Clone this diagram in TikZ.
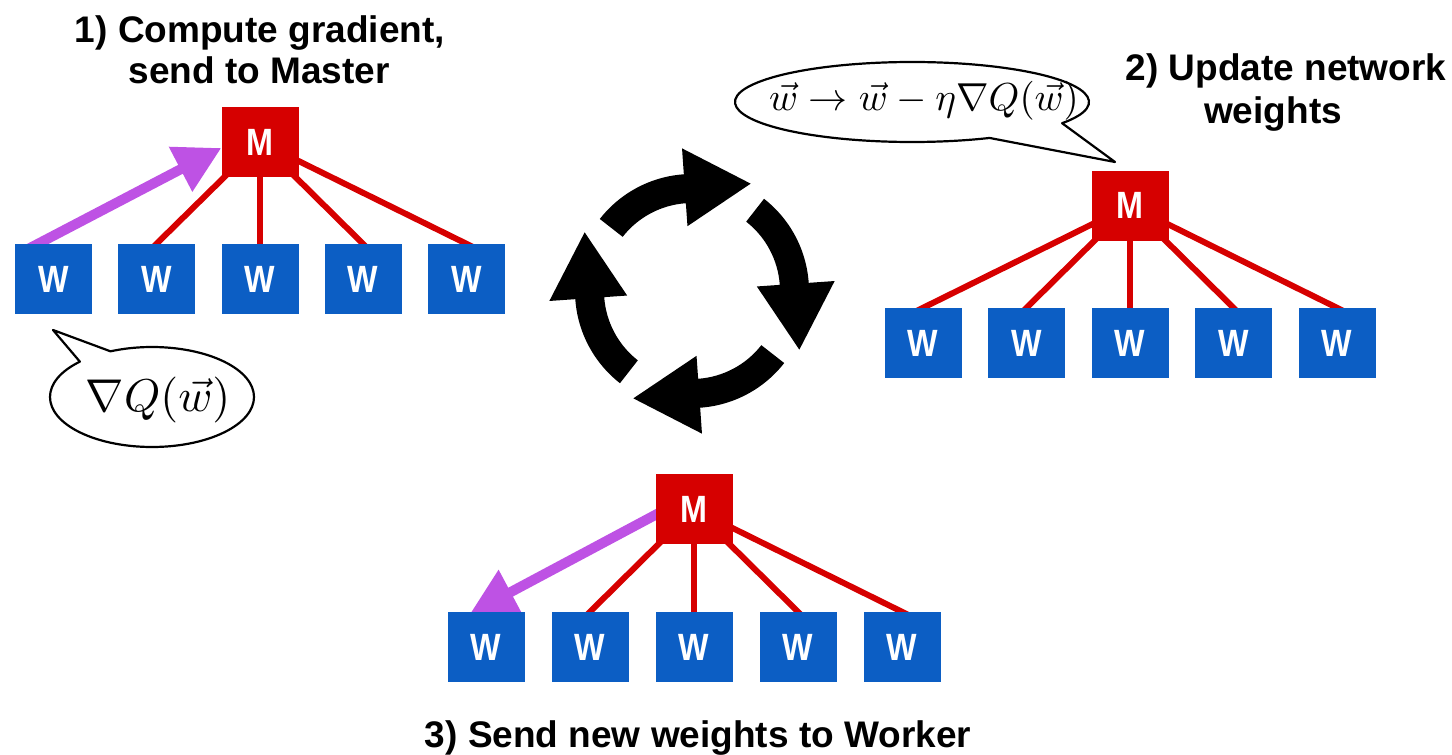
\documentclass[tikz,border=0pt]{standalone}
\usepackage{fontspec}
\setmainfont{Liberation Sans}
\usepackage{graphicx}
\usetikzlibrary{arrows.meta,calc,backgrounds}
\definecolor{wblue}{RGB}{12,94,196}
\definecolor{mred}{RGB}{214,0,0}
\definecolor{gpurple}{RGB}{190,82,228}
\newcommand{\boxletter}[1]{\scalebox{0.85}[1]{#1}}
\begin{document}
\begin{tikzpicture}[x=1pt,y=1pt,
  wbox/.style={fill=wblue, text=white, minimum width=77pt, minimum height=70pt, inner sep=0pt, font=\bfseries\fontsize{38}{38}\selectfont},
  mbox/.style={wbox, fill=mred},
  link/.style={draw=mred, line width=6pt},
  push/.style={draw=gpurple, line width=10pt, -{Triangle[length=46pt,width=48pt]}},
  title/.style={anchor=base, inner sep=0pt, font=\bfseries\fontsize{37}{37}\selectfont},
  bubble/.style={fill=white, draw=black, line width=2.2pt, line join=round},
  cyclearrow/.style={fill=black}]

\useasboundingbox (0,0) rectangle (1452,-755);

% ---------- titles ----------
\node[title] (t1a) at (260,-42) {1) Compute gradient,};
\node[title] (t1b) at (259,-83) {send to Master};
\node[title] (t2a) at (1286,-80) {2) Update network};
\node[title] (t2b) at (1273,-123) {weights};
\node[title] (t3) at (698,-747) {3) Send new weights to Worker};

% ---------- cluster 1 ----------
\node[mbox] (M1) at (260,-142) {\boxletter{M}};
\foreach \i/\x in {1/53.5,2/156.5,3/260,4/363,5/466.5}
  \node[wbox] (W1\i) at (\x,-279) {\boxletter{W}};

% ---------- cluster 2 ----------
\node[mbox] (M2) at (1130,-205.5) {\boxletter{M}};
\foreach \i/\x in {1/923,2/1026.5,3/1130,4/1233.5,5/1337}
  \node[wbox] (W2\i) at (\x,-343) {\boxletter{W}};

% ---------- cluster 3 ----------
\node[mbox] (M3) at (694,-509) {\boxletter{M}};
\foreach \i/\x in {1/486,2/590,3/694,4/798,5/902}
  \node[wbox] (W3\i) at (\x,-647) {\boxletter{W}};

% ---------- connectors (behind boxes) ----------
\begin{pgfonlayer}{background}
  \foreach \i in {2,...,5}
    \draw[link] (M1.center) -- ($(M1.center)!1.06!(W1\i.north)$);
  \foreach \i in {1,...,5}
    \draw[link] (M2.center) -- ($(M2.center)!1.06!(W2\i.north)$);
  \foreach \i in {2,...,5}
    \draw[link] (M3.center) -- ($(M3.center)!1.06!(W3\i.north)$);
  \draw[push] ($(W11.north)+(-26,-5.5)$) -- ($(M1.west)+(0,-6)$);
  \draw[push] ($(M3.west)+(13,1)$) -- ($(W31.north)+(-16,-2)$);
\end{pgfonlayer}

% ---------- speech bubbles ----------
\coordinate (B1) at (152,-397);
\coordinate (tip1) at (53,-330);
\draw[bubble] ($(B1)+(135:102pt and 50pt)$) arc[start angle=135, end angle=474, x radius=102pt, y radius=50pt] -- (tip1) -- cycle;
\node (q1) at (158,-400) {\scalebox{4.6}{$\nabla Q(\vec{w})$}};

\coordinate (B2) at (912,-102);
\coordinate (tip2) at (1115,-162);
\draw[bubble] ($(B2)+(-32:177pt and 40pt)$) arc[start angle=-32, end angle=296, x radius=177pt, y radius=40pt] -- (tip2) -- cycle;
\node (q2) at (924,-101) {\scalebox{3.9}{$\vec{w}\rightarrow\vec{w}-\eta\nabla Q(\vec{w})$}};

% ---------- cycle arrows ----------
\coordinate (C) at (692,-291);
\foreach \a in {142,52,-38,-128}{
  \fill[cyclearrow] ($(C)+(\a:117pt)$) arc[start angle=\a, end angle=\a-48, radius=117pt]
    -- ($(C)+({\a-48}:143pt)$)
    -- ($(C)+({\a-48}:103pt)+({\a-138}:66pt)$)
    -- ($(C)+({\a-48}:65pt)$)
    -- ($(C)+({\a-48}:88pt)$)
    arc[start angle=\a-48, end angle=\a, radius=88pt] -- cycle;
}
\end{tikzpicture}
\end{document}
